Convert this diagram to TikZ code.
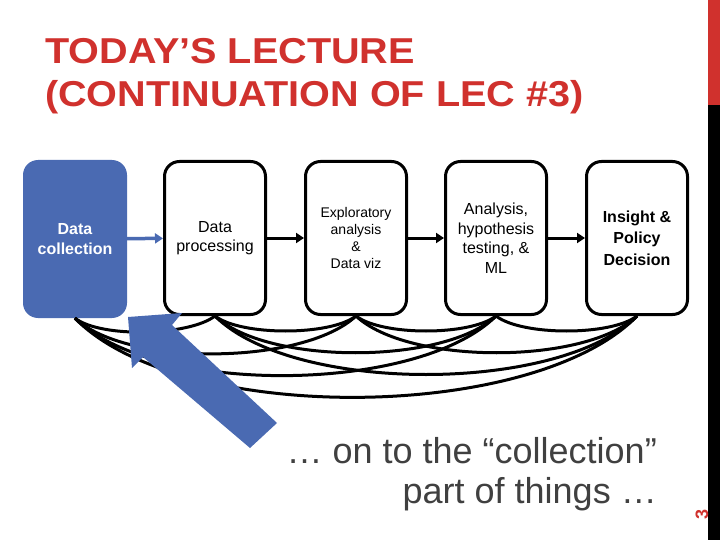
\documentclass[tikz,border=0pt]{standalone}
\usepackage{fontspec}
\setmainfont{Liberation Sans}
\usetikzlibrary{arrows.meta}
\definecolor{slidered}{HTML}{D0312D}
\definecolor{slideblue}{HTML}{4A6AB2}
\definecolor{slidegray}{HTML}{404040}
\begin{document}
\begin{tikzpicture}[x=1pt,y=-1pt,
  stage/.style={draw,line width=3pt,rounded corners=15pt,fill=white,
    minimum width=101pt,minimum height=153pt,align=center,inner sep=2pt},
  stagetext/.style={font=\fontsize{16}{19.5}\selectfont},
  feedback/.style={line width=3pt},
  flow/.style={line width=3pt,-{Triangle[length=8pt,width=10pt]}}]
  \useasboundingbox (0,0) rectangle (720,540);
  % side bars and page number
  \fill[slidered] (708,0) rectangle (720,105);
  \fill[black] (708,105) rectangle (720,540);
  \node[text=slidered,font=\bfseries\fontsize{18}{18}\selectfont,rotate=90] (pagenum) at (702,514) {3};
  % title
  \node[anchor=base west,text=slidered,font=\bfseries\fontsize{36}{43}\selectfont,xscale=1.1,inner sep=0pt] (title1) at (45,64) {TODAY’S LECTURE};
  \node[anchor=base west,text=slidered,font=\bfseries\fontsize{36}{43}\selectfont,xscale=1.1,inner sep=0pt] (title2) at (45,107) {(CONTINUATION OF LEC \#3)};
  % stages
  \node[rounded corners=15pt,fill=slideblue,minimum width=104pt,minimum height=158pt,align=center,
    text=white,font=\bfseries\fontsize{16}{19.5}\selectfont] (b1) at (75,239) {Data\\collection};
  \node[stage,stagetext] (b2) at (215,238) {Data\\processing};
  \node[stage,font=\fontsize{14}{16.8}\selectfont] (b3) at (356,238) {Exploratory\\analysis\\\&\\Data viz};
  \node[stage,stagetext] (b4) at (496,238) {Analysis,\\hypothesis\\testing, \&\\ML};
  \node[stage,font=\bfseries\fontsize{16}{21.5}\selectfont] (b5) at (637,238) {Insight \&\\Policy\\Decision};
  \draw[flow,slideblue,line width=3.5pt] (b1) -- (b2);
  \draw[flow] (b2) -- (b3);
  \draw[flow] (b3) -- (b4);
  \draw[flow] (b4) -- (b5);
  % feedback curves between every pair of stages
  \foreach \i in {1,...,4}{
    \pgfmathtruncatemacro\inext{\i+1}
    \foreach \j in {\inext,...,5}{
      \pgfmathsetmacro\dx{26*(\j-\i)}
      \pgfmathsetmacro\dy{29*(\j-\i)-9}
      \draw[feedback] (b\i.south) .. controls +(\dx,\dy) and +(-\dx,\dy) .. (b\j.south);
    }}
  % big pointer
  \fill[slideblue] (128,317) -- (182,313) -- (172,325) -- (277,423) -- (250,448)
    -- (143,357) -- (132,368) -- cycle;
  % note
  \node[anchor=base east,text=slidegray,font=\fontsize{36}{43}\selectfont,inner sep=0pt] (note1) at (657,463) {… on to the “collection”};
  \node[anchor=base east,text=slidegray,font=\fontsize{36}{43}\selectfont,inner sep=0pt] (note2) at (657,503) {part of things …};
\end{tikzpicture}
\end{document}
